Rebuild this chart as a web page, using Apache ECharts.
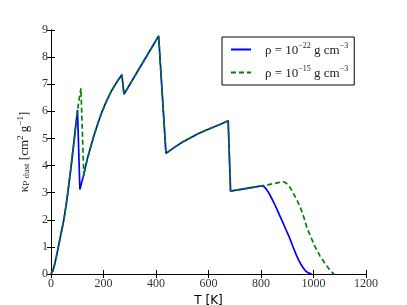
<!DOCTYPE html>
<html>
<head>
<meta charset="utf-8">
<script src="https://cdn.jsdelivr.net/npm/echarts@6/dist/echarts.min.js"></script>
<style>html,body{margin:0;padding:0;background:#fff}#c{width:407px;height:305px}</style>
</head>
<body>
<div id="c"></div>
<script>
var xTicks = [0, 200, 400, 600, 800, 1000, 1200];
var yTicks = [0, 1, 2, 3, 4, 5, 6, 7, 8, 9];
var seriesNames = ['rho22', 'rho15'];

var blueT = [0, 7, 14, 21, 28, 38, 49, 57, 64, 77, 89, 101, 110, 123, 130, 140, 150, 165, 180, 193, 210, 230, 250, 270, 278, 410, 438, 470, 500, 530, 560, 590, 620, 650, 675, 684, 740, 802, 812, 820, 828, 838, 850, 860, 870, 881, 894, 907, 920, 932, 942, 952, 961, 970, 980, 993];
var blueK = [0, 0.12, 0.36, 0.66, 1.0, 1.48, 2.0, 2.5, 3.0, 4.0, 5.0, 6.05, 3.12, 3.6, 3.9, 4.3, 4.65, 5.15, 5.6, 5.95, 6.35, 6.75, 7.07, 7.35, 6.63, 8.78, 4.45, 4.67, 4.86, 5.02, 5.17, 5.3, 5.42, 5.54, 5.65, 3.06, 3.15, 3.25, 3.22, 3.13, 3.02, 2.84, 2.61, 2.40, 2.18, 1.95, 1.66, 1.38, 1.05, 0.76, 0.54, 0.36, 0.22, 0.11, 0.04, 0];

var greenT = [0, 7, 14, 21, 28, 38, 49, 57, 64, 77, 89, 101, 114, 125, 130, 140, 150, 165, 180, 193, 210, 230, 250, 270, 278, 410, 438, 470, 500, 530, 560, 590, 620, 650, 675, 684, 740, 802, 825, 847, 870, 885, 895, 905, 914, 923, 936, 949, 962, 974, 990, 1006, 1025, 1044, 1058, 1069, 1078];
var greenK = [0, 0.12, 0.36, 0.66, 1.0, 1.48, 2.0, 2.5, 3.0, 4.0, 5.0, 6.05, 6.85, 3.62, 3.9, 4.3, 4.65, 5.15, 5.6, 5.95, 6.35, 6.75, 7.07, 7.35, 6.63, 8.78, 4.45, 4.67, 4.86, 5.02, 5.17, 5.3, 5.42, 5.54, 5.65, 3.06, 3.15, 3.25, 3.29, 3.33, 3.38, 3.40, 3.36, 3.26, 3.14, 2.98, 2.75, 2.48, 2.13, 1.74, 1.36, 1.01, 0.66, 0.39, 0.2, 0.08, 0];

function pairs(a, b) { return a.map(function (v, i) { return [v, b[i]]; }); }

var serif = 'Liberation Serif';
var chart = echarts.init(document.getElementById('c'), null, {renderer: 'canvas'});
var tickStyle = {show: true, inside: true, length: 4, lineStyle: {color: '#000', width: 1}};
var lineStyle = {show: true, lineStyle: {color: '#000', width: 1}};

chart.setOption({
  backgroundColor: '#fff',
  animation: false,
  grid: {left: 51, right: 41, top: 30, bottom: 31, containLabel: false, outerBoundsMode: 'none'},
  legend: {
    data: seriesNames,
    orient: 'vertical',
    left: 222,
    top: 37,
    padding: [5, 6, 5, 8],
    itemGap: 8,
    itemWidth: 20,
    itemHeight: 12,
    borderColor: '#000',
    borderWidth: 1,
    backgroundColor: '#fff',
    itemStyle: {opacity: 0},
    formatter: function (n) {
      return n === 'rho22' ? '{a|ρ = 10}{s|−22}{a| g cm}{s|−3}' : '{a|ρ = 10}{s|−15}{a| g cm}{s|−3}';
    },
    textStyle: {
      padding: [0, 0, 0, 9],
      rich: {
        a: {fontFamily: serif, fontSize: 13, color: '#222', lineHeight: 15, verticalAlign: 'bottom'},
        s: {fontFamily: serif, fontSize: 8, color: '#222', lineHeight: 15, verticalAlign: 'top'}
      }
    }
  },
  xAxis: [{
    type: 'value', min: 0, max: 1200, interval: 200,
    axisLine: lineStyle, axisTick: tickStyle, splitLine: {show: false},
    axisLabel: {fontFamily: serif, fontSize: 12, color: '#333', margin: 4, formatter: function (v) { return String(v); }},
    name: 'T [K]', nameLocation: 'middle', nameGap: 17,
    nameTextStyle: {fontFamily: 'DejaVu Sans', fontSize: 12, color: '#000'}
  }, {
    type: 'value', min: 0, max: 1200, interval: 200, position: 'top',
    axisLine: lineStyle, axisTick: tickStyle, splitLine: {show: false}, axisLabel: {show: false}
  }],
  yAxis: [{
    type: 'value', min: 0, max: 9, interval: 1,
    axisLine: lineStyle, axisTick: tickStyle, splitLine: {show: false},
    axisLabel: {fontFamily: serif, fontSize: 12, color: '#333', margin: 3},
    name: '{k|κ}{sub|P dust}{t| [cm}{sup|2}{t| g}{sup|−1}{t|]}',
    nameLocation: 'middle', nameRotate: 90, nameGap: 17,
    nameTextStyle: {
      rich: {
        k: {fontFamily: serif, fontSize: 13, color: '#222', lineHeight: 15, verticalAlign: 'bottom'},
        t: {fontFamily: serif, fontSize: 13, color: '#222', lineHeight: 15, verticalAlign: 'bottom'},
        sub: {fontFamily: serif, fontSize: 9, color: '#222', lineHeight: 15, verticalAlign: 'bottom'},
        sup: {fontFamily: serif, fontSize: 9, color: '#222', lineHeight: 15, verticalAlign: 'top'}
      }
    }
  }, {
    type: 'value', min: 0, max: 9, interval: 1, position: 'right',
    axisLine: lineStyle, axisTick: tickStyle, splitLine: {show: false}, axisLabel: {show: false}
  }],
  series: [{
    name: 'rho22', type: 'line', data: pairs(blueT, blueK), symbol: 'none', showSymbol: false,
    lineStyle: {color: '#0000ff', width: 1.7}, itemStyle: {color: '#0000ff'}, z: 2
  }, {
    name: 'rho15', type: 'line', data: pairs(greenT, greenK), symbol: 'none', showSymbol: false,
    lineStyle: {color: '#008000', width: 1.7, type: [5, 3]}, itemStyle: {color: '#008000'}, z: 3
  }]
});
</script>
</body>
</html>
